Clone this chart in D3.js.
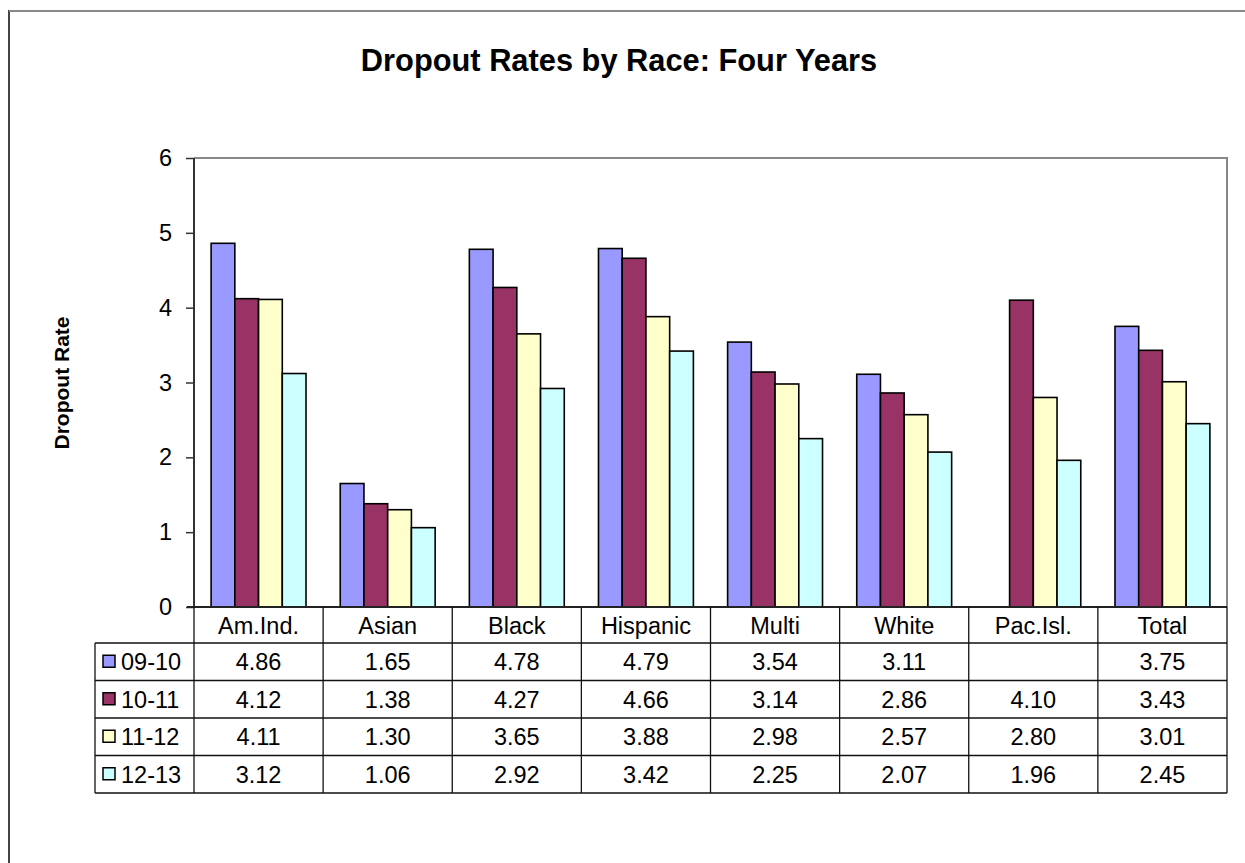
<!DOCTYPE html>
<html><head><meta charset="utf-8">
<script src="https://cdn.jsdelivr.net/npm/d3@7"></script>
<style>body{margin:0;background:#fff;}svg{display:block;font-family:"Liberation Sans",Arial,sans-serif;}</style>
</head><body>
<svg id="c" width="1245" height="863"></svg>
<script>
const categories = ["Am.Ind.","Asian","Black","Hispanic","Multi","White","Pac.Isl.","Total"];
const seriesNames = ["09-10","10-11","11-12","12-13"];
const s0910 = [4.86,1.65,4.78,4.79,3.54,3.11,null,3.75];
const s1011 = [4.12,1.38,4.27,4.66,3.14,2.86,4.10,3.43];
const s1112 = [4.11,1.30,3.65,3.88,2.98,2.57,2.80,3.01];
const s1213 = [3.12,1.06,2.92,3.42,2.25,2.07,1.96,2.45];
const yTicks = [0,1,2,3,4,5,6];
const colors = ["#9999FF","#993366","#FFFFCC","#CCFFFF"];
const series = [s0910,s1011,s1112,s1213];

const svg = d3.select("#c");
const L=194, R=1227, T=158, B=607;
const legL=95;
const rowY=[607,643,680.5,718,755.5,793];
const FS=23.5;

// outer border
svg.append("path").attr("d","M9,870 V11 H1250").attr("fill","none").attr("stroke","#444").attr("stroke-width",2);
svg.append("line").attr("x1",9).attr("x2",1250).attr("y1",11).attr("y2",11).attr("stroke","#888").attr("stroke-width",2);

// title
svg.append("text").attr("x",619).attr("y",71).attr("text-anchor","middle")
  .attr("font-weight","bold").attr("font-size",30.8).text("Dropout Rates by Race: Four Years");

const x = d3.scaleBand().domain(categories).range([L,R]).paddingInner(0).paddingOuter(0);
const y = d3.scaleLinear().domain([0,6]).range([B,T]);

// plot frame (top/right gray)
svg.append("path").attr("d",`M${L},${T} H${R} V${B}`).attr("fill","none").attr("stroke","#888").attr("stroke-width",2);

// bars
const bw = x.bandwidth();
const groupW = bw*0.735, off=(bw-groupW)/2, barW=groupW/4;
series.forEach((s,si)=>{
  svg.append("g").selectAll("rect").data(categories.map((c,i)=>({c,v:s[i]})).filter(d=>d.v!=null))
   .join("rect")
   .attr("x",d=>x(d.c)+off+si*barW).attr("width",barW)
   .attr("y",d=>y(d.v)).attr("height",d=>y(0)-y(d.v))
   .attr("fill",colors[si]).attr("stroke","#000").attr("stroke-width",1.6);
});

// y axis
const yAxis = d3.axisLeft(y).tickValues(yTicks).tickSize(8).tickPadding(14).tickFormat(d3.format("d"));
const ga = svg.append("g").attr("transform",`translate(${L},0)`).call(yAxis);
ga.select(".domain").attr("stroke","#333").attr("stroke-width",2).attr("d",`M0,${T}V${B}`);
ga.selectAll(".tick line").attr("stroke","#333").attr("stroke-width",1.5);
ga.selectAll(".tick text").attr("font-size",FS).attr("font-family","Liberation Sans, Arial, sans-serif").attr("fill","#000");

// y title
svg.append("text").attr("transform","translate(69,383) rotate(-90)").attr("text-anchor","middle")
  .attr("font-weight","bold").attr("font-size",21).text("Dropout Rate");

// table
const tg = svg.append("g");
const lineC="#111";
tg.append("line").attr("x1",L-7).attr("x2",R).attr("y1",B).attr("y2",B).attr("stroke","#222").attr("stroke-width",2);
for(let r=1;r<rowY.length;r++){
  tg.append("line").attr("x1",legL).attr("x2",R).attr("y1",rowY[r]).attr("y2",rowY[r]).attr("stroke",lineC).attr("stroke-width",1.3);
}
categories.forEach(c=>{
  tg.append("line").attr("x1",x(c)).attr("x2",x(c)).attr("y1",B).attr("y2",rowY[5]).attr("stroke",lineC).attr("stroke-width",1.3);
});
tg.append("line").attr("x1",R).attr("x2",R).attr("y1",B).attr("y2",rowY[5]).attr("stroke",lineC).attr("stroke-width",1.3);
tg.append("line").attr("x1",legL).attr("x2",legL).attr("y1",rowY[1]).attr("y2",rowY[5]).attr("stroke",lineC).attr("stroke-width",1.3);

// header labels
tg.selectAll("text.cat").data(categories).join("text").attr("class","cat")
  .attr("x",d=>x(d)+bw/2).attr("y",(rowY[0]+rowY[1])/2+8.5).attr("text-anchor","middle")
  .attr("font-size",FS).text(d=>d);
// rows
series.forEach((s,si)=>{
  const cy=(rowY[si+1]+rowY[si+2])/2;
  tg.append("rect").attr("x",legL+8).attr("y",cy-6.5).attr("width",12).attr("height",12)
    .attr("fill",colors[si]).attr("stroke","#000").attr("stroke-width",1.5);
  tg.append("text").attr("x",legL+26).attr("y",cy+8.5).attr("font-size",FS).text(seriesNames[si]);
  tg.selectAll(null).data(categories.map((c,i)=>({c,v:s[i]})).filter(d=>d.v!=null)).join("text")
    .attr("x",d=>x(d.c)+bw/2).attr("y",cy+8.5).attr("text-anchor","middle").attr("font-size",FS)
    .text(d=>d3.format(".2f")(d.v));
});
</script>
</body></html>
